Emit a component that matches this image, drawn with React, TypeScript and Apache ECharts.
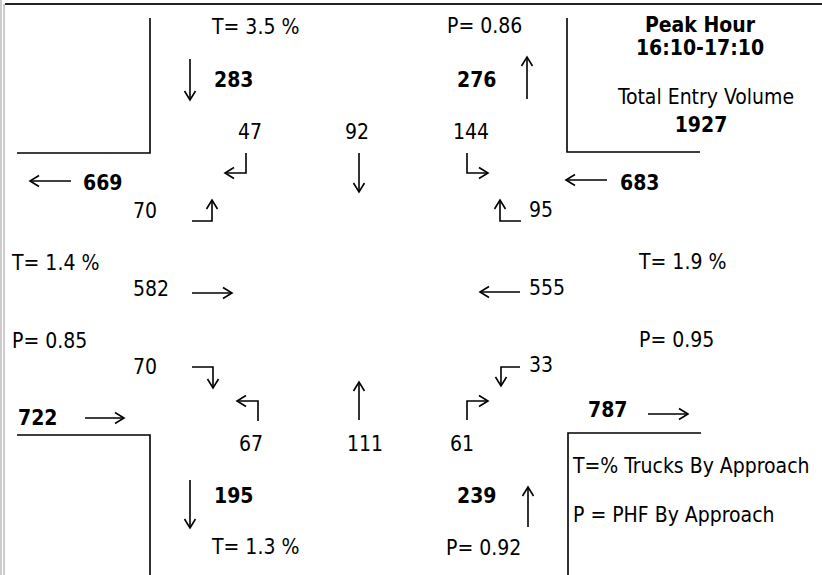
import React, { useEffect, useRef } from "react";
import * as echarts from "echarts";

// ---- Data (legs ordered: north, east, south, west) ----
const peakHour = "16:10-17:10";
const entryVolumes = [283, 683, 239, 722]; // SB, WB, NB, EB entering
const exitVolumes = [276, 787, 195, 669]; // leaving to N, E, S, W
const truckPct = [3.5, 1.9, 1.3, 1.4];
const phf = [0.86, 0.95, 0.92, 0.85];
// turning movements per approach: [right, through, left]
const sbMoves = [47, 92, 144];
const wbMoves = [95, 555, 33];
const nbMoves = [61, 111, 67];
const ebMoves = [70, 582, 70];
const legendLines = ["T=% Trucks By Approach", "P = PHF By Approach"];

// ---- Layout (positions only) ----
const legLayout = [
  { t: [212, 27], p: [447, 26], entry: [214, 80], exit: [457, 80], entryArrow: [[190, 59], [190, 100]], exitArrow: [[527, 99], [527, 57]] },
  { t: [639, 262], p: [639, 340], entry: [620, 183], exit: [588, 410], entryArrow: [[607, 180], [566, 180]], exitArrow: [[648, 414], [688, 414]] },
  { t: [212, 547], p: [446, 548], entry: [457, 496], exit: [214, 496], entryArrow: [[528, 527], [528, 487]], exitArrow: [[190, 480], [190, 528]] },
  { t: [12, 263], p: [12, 341], entry: [18, 418], exit: [83, 183], entryArrow: [[85, 418], [124, 418]], exitArrow: [[71, 181], [30, 181]] },
];
const moveLayout = [
  { moves: sbMoves, labels: [[238, 132], [345, 132], [453, 132]], arrows: [[[246, 153], [246, 173], [225, 173]], [[359, 153], [359, 192]], [[467, 153], [467, 173], [488, 173]]] },
  { moves: wbMoves, labels: [[529, 210], [529, 288], [529, 365]], arrows: [[[521, 221], [500, 221], [500, 200]], [[520, 292], [480, 292]], [[520, 367], [501, 367], [501, 386]]] },
  { moves: nbMoves, labels: [[450, 444], [347, 444], [239, 444]], arrows: [[[467, 420], [467, 401], [488, 401]], [[359, 420], [359, 382]], [[258, 421], [258, 401], [237, 401]]] },
  { moves: ebMoves, labels: [[133, 367], [133, 289], [133, 211]], arrows: [[[192, 367], [213, 367], [213, 388]], [[192, 293], [232, 293]], [[192, 221], [212, 221], [212, 200]]] },
];

const FONT = "'DejaVu Sans Condensed', 'DejaVu Sans'";
const FS = 21;

function text(str: string, pos: number[], bold = false, align = "left"): any {
  return {
    type: "text",
    x: pos[0],
    y: pos[1],
    style: {
      text: str,
      fill: "#000",
      fontFamily: FONT,
      fontSize: FS,
      fontWeight: bold ? "bold" : "normal",
      align,
      verticalAlign: "middle",
    },
  };
}

function arrow(points: number[][]): any[] {
  const n = points.length;
  const [x1, y1] = points[n - 2];
  const [x2, y2] = points[n - 1];
  const ang = Math.atan2(y2 - y1, x2 - x1);
  const L = 9, W = 5.5;
  const bx = x2 - L * Math.cos(ang), by = y2 - L * Math.sin(ang);
  const px = -Math.sin(ang) * W, py = Math.cos(ang) * W;
  const st = { stroke: "#000", lineWidth: 1.6, fill: null };
  return [
    { type: "polyline", shape: { points }, style: st },
    { type: "polyline", shape: { points: [[bx + px, by + py], [x2, y2], [bx - px, by - py]] }, style: st },
  ];
}

function line(points: number[][], stroke = "#000", w = 1.6): any {
  return { type: "polyline", shape: { points }, style: { stroke, lineWidth: w, fill: null } };
}

export default function App() {
  const ref = useRef<HTMLDivElement>(null);
  useEffect(() => {
    document.body.style.margin = "0";
    const chart = echarts.init(ref.current!, undefined, { renderer: "svg" });
    const els: any[] = [];
    // frame
    els.push(line([[5, 4], [822, 4]], "#222", 1.8));
    els.push(line([[1, 0], [1, 575]], "#999", 1));
    els.push(line([[4, 4], [4, 575]], "#999", 1));
    // corner boxes
    els.push(line([[17, 153], [150, 153], [150, 18]]));
    els.push(line([[567, 18], [567, 152], [700, 152]]));
    els.push(line([[17, 435], [150, 435], [150, 575]]));
    els.push(line([[701, 433], [568, 433], [568, 575]]));
    // legs
    legLayout.forEach((lay, i) => {
      els.push(text(`T= ${truckPct[i].toFixed(1)} %`, lay.t));
      els.push(text(`P= ${phf[i].toFixed(2)}`, lay.p));
      els.push(text(String(entryVolumes[i]), lay.entry, true));
      els.push(text(String(exitVolumes[i]), lay.exit, true));
      els.push(...arrow(lay.entryArrow));
      els.push(...arrow(lay.exitArrow));
    });
    // movements
    moveLayout.forEach((m) => {
      m.moves.forEach((v, j) => {
        els.push(text(String(v), m.labels[j]));
        els.push(...arrow(m.arrows[j]));
      });
    });
    // header
    const total = entryVolumes.reduce((a, b) => a + b, 0);
    els.push(text("Peak Hour", [700, 25], true, "center"));
    els.push(text(peakHour, [700, 48], true, "center"));
    els.push(text("Total Entry Volume", [706, 97], false, "center"));
    els.push(text(String(total), [701, 125], true, "center"));
    // legend
    els.push(text(legendLines[0], [573, 466]));
    els.push(text(legendLines[1], [573, 515]));

    chart.setOption({
      animation: false,
      backgroundColor: "#fff",
      graphic: { elements: els },
    });
    return () => chart.dispose();
  }, []);
  return <div ref={ref} style={{ width: 822, height: 575 }} />;
}
